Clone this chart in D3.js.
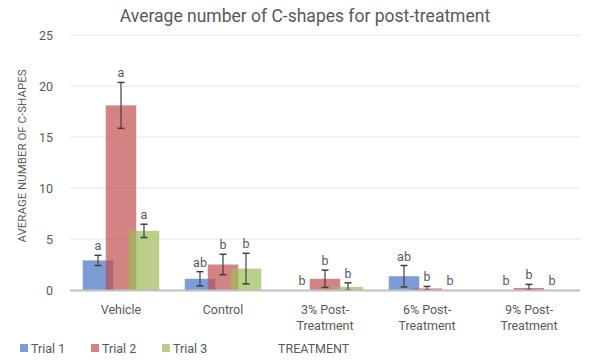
<!DOCTYPE html>
<html><head><meta charset="utf-8">
<script src="https://cdn.jsdelivr.net/npm/d3@7"></script>
<style>body{margin:0;background:#fff}svg{display:block;font-family:Roboto,"Open Sans",sans-serif}</style>
</head><body><svg id="c" width="600" height="362"></svg>
<script>
const categories = [["Vehicle"],["Control"],["3% Post-","Treatment"],["6% Post-","Treatment"],["9% Post-","Treatment"]];
const seriesNames = ["Trial 1","Trial 2","Trial 3"];
const trial1 = [2.9, 1.1, 0, 1.35, 0];
const trial2 = [18.1, 2.5, 1.1, 0.15, 0.2];
const trial3 = [5.8, 2.1, 0.3, 0, 0];
const err1 = [0.5, 0.7, 0, 1.05, 0];
const err2 = [2.25, 1.0, 0.85, 0.2, 0.35];
const err3 = [0.65, 1.5, 0.4, 0, 0];
const letters1 = ["a","ab","b","ab","b"];
const letters2 = ["a","b","b","b","b"];
const letters3 = ["a","b","b","b","b"];
const yTicks = [0,5,10,15,20,25];
const colors = ["#4472c4","#c0504d","#9bbb59"];

const svg = d3.select("#c");
const L=70, R=580, T=35, B=290;
const x = d3.scaleBand().domain(d3.range(categories.length)).range([L,R]);
const y = d3.scaleLinear().domain([0,25]).range([B,T]);
const sub = d3.scaleLinear().domain([0,2]).range([-23,23]);
const bw = 30.5;

svg.append("text").attr("x",305).attr("y",22).attr("text-anchor","middle")
  .attr("font-size",17.5).attr("fill","#595959").text("Average number of C-shapes for post-treatment");

const g = svg.append("g");
g.selectAll("line.grid").data(yTicks.filter(d=>d>0)).join("line")
  .attr("x1",L).attr("x2",R).attr("y1",d=>y(d)).attr("y2",d=>y(d))
  .attr("stroke","#e6e6e6").attr("stroke-width",1);
g.selectAll("text.yt").data(yTicks).join("text")
  .attr("x",53).attr("y",d=>y(d)+4.5).attr("text-anchor","end")
  .attr("font-size",12.5).attr("fill","#595959").text(d=>d);

const series = [trial1,trial2,trial3], errs=[err1,err2,err3], lets=[letters1,letters2,letters3];
series.forEach((vals,s)=>{
  const cx = i => x(i)+x.bandwidth()/2+sub(s);
  g.append("g").selectAll("rect").data(vals).join("rect")
    .attr("x",(d,i)=>cx(i)-bw/2).attr("width",bw)
    .attr("y",d=>y(d)).attr("height",d=>B-y(d))
    .attr("fill",colors[s]).attr("fill-opacity",0.7);
});
series.forEach((vals,s)=>{
  const cx = i => x(i)+x.bandwidth()/2+sub(s);
  const eg = g.append("g");
  vals.forEach((v,i)=>{
    const e = errs[s][i];
    if(e>0){
      const yt=y(v+e), yb=y(Math.max(0,v-e));
      eg.append("line").attr("x1",cx(i)).attr("x2",cx(i)).attr("y1",yt).attr("y2",yb).attr("stroke","#404040").attr("stroke-width",1.2);
      [yt,yb].forEach(yy=>eg.append("line").attr("x1",cx(i)-3.5).attr("x2",cx(i)+3.5).attr("y1",yy).attr("y2",yy).attr("stroke","#404040").attr("stroke-width",1.5));
    }
    eg.append("text").attr("x",cx(i)).attr("y",y(v+e)-5).attr("text-anchor","middle")
      .attr("font-size",12.5).attr("fill","#595959").text(lets[s][i]);
  });
});

g.append("line").attr("x1",L).attr("x2",R).attr("y1",B+0.5).attr("y2",B+0.5).attr("stroke","#c0c0c0").attr("stroke-width",2);

categories.forEach((c,i)=>{
  const t = g.append("text").attr("text-anchor","middle").attr("font-size",12.5).attr("fill","#595959");
  c.forEach((line,k)=>t.append("tspan").attr("x",x(i)+x.bandwidth()/2).attr("y",314+k*16).text(line));
});

svg.append("text").attr("transform","translate(26,156) rotate(-90)").attr("text-anchor","middle")
  .attr("font-size",11.5).attr("fill","#595959").text("AVERAGE NUMBER OF C-SHAPES");

const lg = svg.append("g");
const lx = [20,91,162];
seriesNames.forEach((n,s)=>{
  lg.append("rect").attr("x",lx[s]).attr("y",344).attr("width",8).attr("height",8).attr("fill",colors[s]).attr("fill-opacity",0.7);
  lg.append("text").attr("x",lx[s]+11).attr("y",353).attr("font-size",12.5).attr("fill","#595959").text(n);
});
lg.append("text").attr("x",278).attr("y",353).attr("font-size",12.5).attr("fill","#595959").text("TREATMENT");
</script></body></html>
